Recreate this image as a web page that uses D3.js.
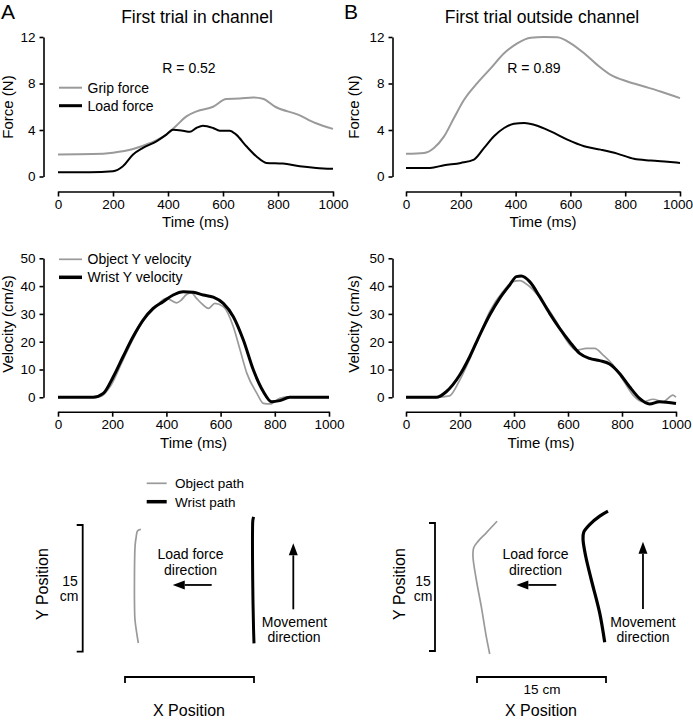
<!DOCTYPE html>
<html>
<head>
<meta charset="utf-8">
<script src="https://cdn.jsdelivr.net/npm/d3@7/dist/d3.min.js"></script>
<style>
  html, body { margin: 0; padding: 0; background: #fff; }
  svg { display: block; }
  text { font-family: "Liberation Sans", Arial, Helvetica, sans-serif; fill: #000; }
</style>
</head>
<body>
<svg id="chart" width="693" height="720"></svg>
<script>
// ---------------- DATA ----------------
const timeTicks = [0, 200, 400, 600, 800, 1000];
const forceTicks = [0, 4, 8, 12];
const velTicks = [0, 10, 20, 30, 40, 50];

// Panel A - force (N)
const gripA_t = [0,127,200,273,333,394,430,467,504,564,612,661,709,745,790,875,936,1000];
const gripA_v = [1.9,1.93,2.05,2.36,2.86,3.6,4.37,5.17,5.6,6.0,6.66,6.7,6.8,6.69,6.0,5.3,4.6,4.1];
const loadA_t = [0,115,200,236,273,309,358,394,418,455,479,503,527,564,588,624,648,685,721,758,818,879,939,1000];
const loadA_v = [0.37,0.37,0.45,0.88,1.89,2.46,3.03,3.6,4.03,3.94,3.85,4.17,4.37,4.17,3.94,3.94,3.6,2.6,1.74,1.17,1.11,0.88,0.74,0.66];

// Panel B - force (N)
const gripB_t = [0,66,102,139,175,212,260,309,358,406,455,504,552,601,650,698,747,808,869,929,1000];
const gripB_v = [1.95,2.03,2.46,3.45,5.03,6.6,8.03,9.3,10.6,11.46,11.94,12.0,11.97,11.46,10.6,9.6,8.74,8.17,7.74,7.31,6.74];
const loadB_t = [0,88,139,200,248,285,321,358,394,431,479,528,589,650,710,771,832,893,954,1000];
const loadB_v = [0.74,0.74,0.97,1.17,1.46,2.46,3.46,4.17,4.54,4.6,4.37,3.88,3.17,2.6,2.31,1.97,1.52,1.37,1.26,1.17];

// Panel A - velocity (cm/s)
const wristVelA_t = [0,130,167,204,240,277,314,351,388,425,462,499,536,573,610,647,684,721,758,788,818,855,1000];
const wristVelA_v = [0,0,1.4,7.4,14.6,21.8,27.8,32,34.4,36.8,38,37.8,36.8,36,33.8,29,20.6,9.8,2.0,-1.6,-1.2,0,0];
const objVelA_t = [0,155,192,240,277,314,351,400,437,455,474,492,511,536,555,579,610,647,672,697,734,758,783,818,843,868,1000];
const objVelA_v = [0,0.2,3.8,13.5,21,27.5,31.5,35.6,34,35,37,37.6,35.6,33.2,32,33.8,32.6,25.4,17,8.6,1.4,-2.2,-2.4,-0.4,0.2,0,0];

// Panel B - velocity (cm/s)
const wristVelB_t = [0,112,149,199,236,273,310,347,384,409,427,458,495,532,569,606,643,680,717,754,791,828,865,902,939,1000];
const wristVelB_v = [0,0,2,8,14.6,22.4,29.6,35.6,40.4,43.4,43.6,41.6,36.2,30.2,24.8,20,15.8,14,13.2,12,8.6,3.8,-0.4,-2.4,-1.6,-2.2];
const objVelB_t = [0,112,161,199,261,310,359,396,421,458,507,557,594,631,668,699,730,767,804,841,878,915,952,989,1000];
const objVelB_v = [0,0,0.5,6.2,19.4,30.8,38,41.6,42,39.8,34.4,27.2,20.6,17,17.6,17.6,15.2,11.6,6.2,0.8,-1.6,-0.7,-1.6,0.8,0];

// Paths (cm)
const objPathA_x = [1.55,1.36,1.16,1.1,1.1,1.12,1.18,1.3,1.45,1.85];
const objPathA_y = [1.03,2.24,3.78,6.14,8.5,10.86,12.63,13.58,14.3,14.5];
const wristPathA_x = [15.0,14.95,14.88,14.83,14.83,14.86,14.95];
const wristPathA_y = [0.99,2.6,6.14,10.86,14.4,15.5,15.95];
const objPathB_x = [1.48,1.08,0.5,-0.08,-0.47,-0.38,0.12,1.08,2.33];
const objPathB_y = [-0.35,1.68,5.2,8.35,11.1,12.1,12.85,13.85,15.2];
const wristPathB_x = [14.85,14.27,13.29,12.64,12.33,12.41,13.1,14.27,15.23];
const wristPathB_y = [1.02,4.44,8.35,11.1,13.06,13.92,14.82,15.8,16.39];

const scaleBar = [0, 15]; // cm

// ---------------- DRAW ----------------
const svg = d3.select("#chart");
const GRAY = "#9a9a9a";
const zip = (a, b) => a.map((d, i) => [d, b[i]]);

function drawAxes(g, x, y, yTicks, xAxisY, yAxisX, lastShift) {
  const ya = g.append("g").attr("transform", `translate(${yAxisX},0)`)
    .call(d3.axisLeft(y).tickValues(yTicks).tickFormat(d3.format("d")).tickSize(4).tickSizeOuter(0).tickPadding(4));
  ya.selectAll("text").style("font-size", "13.5px").style("font-family", "Liberation Sans, Arial, sans-serif");
  const xa = g.append("g").attr("transform", `translate(0,${xAxisY})`)
    .call(d3.axisBottom(x).tickValues(timeTicks).tickFormat(d3.format("d")).tickSize(5).tickSizeOuter(0).tickPadding(3));
  xa.selectAll("text").style("font-size", "13.5px").style("font-family", "Liberation Sans, Arial, sans-serif");
  if (lastShift) xa.selectAll(".tick text").filter(d => d === 1000).attr("dx", lastShift);
  [ya, xa].forEach(a => {
    a.select(".domain").attr("stroke", "#000").attr("stroke-width", 1.6);
    a.selectAll(".tick line").attr("stroke", "#000").attr("stroke-width", 1.6);
  });
}

function drawLine(g, x, y, t, v, color, width, curve) {
  g.append("path")
    .datum(zip(t, v))
    .attr("fill", "none")
    .attr("stroke", color)
    .attr("stroke-width", width)
    .attr("stroke-linejoin", "round")
    .attr("d", d3.line().x(d => x(d[0])).y(d => y(d[1])).curve(curve || d3.curveMonotoneX));
}

function text(g, x, y, s, size, anchor, rot) {
  const t = g.append("text").attr("font-size", size).attr("text-anchor", anchor || "start").text(s);
  if (rot) t.attr("transform", `translate(${x},${y}) rotate(${rot})`);
  else t.attr("x", x).attr("y", y);
  return t;
}

const g = svg.append("g");

// Panel letters & titles
text(g, 1, 18.5, "A", "21px");
text(g, 344, 18.5, "B", "21px");
text(g, 197, 23, "First trial in channel", "17.5px", "middle");
text(g, 542, 23, "First trial outside channel", "17.5px", "middle");

// ---- Force panels ----
const yForce = d3.scaleLinear().domain([0, 12]).range([176.5, 37]);
const xForceA = d3.scaleLinear().domain([0, 1000]).range([58, 333]);
const xForceB = d3.scaleLinear().domain([0, 1000]).range([406, 680]);

drawAxes(g, xForceA, yForce, forceTicks, 191.5, 43.5);
drawAxes(g, xForceB, yForce, forceTicks, 191.5, 392.5, -2.5);
drawLine(g, xForceA, yForce, gripA_t, gripA_v, GRAY, 2);
drawLine(g, xForceA, yForce, loadA_t, loadA_v, "#000", 2);
drawLine(g, xForceB, yForce, gripB_t, gripB_v, GRAY, 2);
drawLine(g, xForceB, yForce, loadB_t, loadB_v, "#000", 2);

text(g, 195.5, 227, "Time (ms)", "15px", "middle");
text(g, 543, 227, "Time (ms)", "15px", "middle");
text(g, 13, 107, "Force (N)", "15px", "middle", -90);
text(g, 359, 107, "Force (N)", "15px", "middle", -90);
text(g, 189, 72.5, "R = 0.52", "14px", "middle");
text(g, 534, 72.5, "R = 0.89", "14px", "middle");

// Force legend
g.append("line").attr("x1", 59).attr("x2", 82).attr("y1", 87.7).attr("y2", 87.7).attr("stroke", GRAY).attr("stroke-width", 2);
g.append("line").attr("x1", 59).attr("x2", 82).attr("y1", 105.7).attr("y2", 105.7).attr("stroke", "#000").attr("stroke-width", 3);
text(g, 87.5, 92.5, "Grip force", "14px");
text(g, 87.5, 110.5, "Load force", "14px");

// ---- Velocity panels ----
const yVel = d3.scaleLinear().domain([0, 50]).range([397.3, 258.3]);
const xVelA = d3.scaleLinear().domain([0, 1000]).range([58, 329]);
const xVelB = d3.scaleLinear().domain([0, 1000]).range([406, 676]);

drawAxes(g, xVelA, yVel, velTicks, 411.7, 43.5);
drawAxes(g, xVelB, yVel, velTicks, 411.7, 392.5);
drawLine(g, xVelA, yVel, objVelA_t, objVelA_v, GRAY, 1.7);
drawLine(g, xVelA, yVel, wristVelA_t, wristVelA_v, "#000", 3);
drawLine(g, xVelB, yVel, objVelB_t, objVelB_v, GRAY, 1.7);
drawLine(g, xVelB, yVel, wristVelB_t, wristVelB_v, "#000", 3);

text(g, 193.5, 448, "Time (ms)", "15px", "middle");
text(g, 541, 448, "Time (ms)", "15px", "middle");
text(g, 12.5, 324, "Velocity (cm/s)", "15px", "middle", -90);
text(g, 358.5, 324, "Velocity (cm/s)", "15px", "middle", -90);

g.append("line").attr("x1", 59).attr("x2", 82).attr("y1", 259.3).attr("y2", 259.3).attr("stroke", GRAY).attr("stroke-width", 1.7);
g.append("line").attr("x1", 59).attr("x2", 82).attr("y1", 277.3).attr("y2", 277.3).attr("stroke", "#000").attr("stroke-width", 3.5);
text(g, 87.5, 264, "Object Y velocity", "14px");
text(g, 87.5, 282, "Wrist Y velocity", "14px");

// ---- Position panels ----
const posXA = d3.scaleLinear().domain([0, 15]).range([125, 254]);
const posYA = d3.scaleLinear().domain([0, 15]).range([651.7, 525]);
const posXB = d3.scaleLinear().domain([0, 15]).range([477, 606]);
const posYB = d3.scaleLinear().domain([0, 15]).range([651, 523]);

const cr = d3.curveCatmullRom.alpha(0.5);
drawLine(g, posXA, posYA, objPathA_x, objPathA_y, GRAY, 1.7, cr);
drawLine(g, posXA, posYA, wristPathA_x, wristPathA_y, "#000", 3, cr);
drawLine(g, posXB, posYB, objPathB_x, objPathB_y, GRAY, 1.7, cr);
drawLine(g, posXB, posYB, wristPathB_x, wristPathB_y, "#000", 3.2, cr);

// Legend for paths
g.append("line").attr("x1", 146.7).attr("x2", 166.7).attr("y1", 483.3).attr("y2", 483.3).attr("stroke", GRAY).attr("stroke-width", 1.7);
g.append("line").attr("x1", 146.7).attr("x2", 166.7).attr("y1", 501.7).attr("y2", 501.7).attr("stroke", "#000").attr("stroke-width", 3.5);
text(g, 175, 488, "Object path", "13.5px");
text(g, 175, 506.5, "Wrist path", "13.5px");

function bracketY(x, y0, y1) {
  g.append("path").attr("fill", "none").attr("stroke", "#000").attr("stroke-width", 1.8)
    .attr("d", `M${x - 6},${y0}H${x}V${y1}H${x - 6}`);
}
function bracketX(x0, x1, y) {
  g.append("path").attr("fill", "none").attr("stroke", "#000").attr("stroke-width", 1.8)
    .attr("d", `M${x0},${y + 6}V${y}H${x1}V${y + 6}`);
}
function arrow(x1, y1, x2, y2) {
  const ang = Math.atan2(y2 - y1, x2 - x1);
  const L = 12, W = 4.5;
  const bx = x2 - L * Math.cos(ang), by = y2 - L * Math.sin(ang);
  g.append("line").attr("x1", x1).attr("y1", y1).attr("x2", bx).attr("y2", by)
    .attr("stroke", "#000").attr("stroke-width", 1.8);
  g.append("path").attr("fill", "#000")
    .attr("d", `M${x2},${y2}L${bx - W * Math.sin(ang)},${by + W * Math.cos(ang)}L${bx + W * Math.sin(ang)},${by - W * Math.cos(ang)}Z`);
}

// Panel A bottom
bracketY(82.7, posYA(scaleBar[1]), posYA(scaleBar[0]));
bracketX(posXA(scaleBar[0]), posXA(scaleBar[1]), 677);
text(g, 70, 585.5, "15", "14px", "middle");
text(g, 69, 600.5, "cm", "14px", "middle");
text(g, 48, 584, "Y Position", "16px", "middle", -90);
text(g, 190.5, 558.5, "Load force", "14px", "middle");
text(g, 190.5, 575, "direction", "14px", "middle");
arrow(posXA(10.08), posYA(7.9), posXA(5.55), posYA(7.9));
arrow(posXA(19.57), posYA(5.02), posXA(19.57), posYA(12.83));
text(g, 294.5, 626.5, "Movement", "14px", "middle");
text(g, 294, 642, "direction", "14px", "middle");
text(g, 189, 715.5, "X Position", "16px", "middle");

// Panel B bottom
bracketY(435, posYB(scaleBar[1]), posYB(scaleBar[0]));
bracketX(posXB(scaleBar[0]), posXB(scaleBar[1]), 677);
text(g, 423, 585.5, "15", "14px", "middle");
text(g, 423, 600.5, "cm", "14px", "middle");
text(g, 404.5, 584, "Y Position", "16px", "middle", -90);
text(g, 535.5, 558.5, "Load force", "14px", "middle");
text(g, 535.5, 575, "direction", "14px", "middle");
arrow(posXB(9.22), posYB(7.74), posXB(4.57), posYB(7.74));
arrow(posXB(19.3), posYB(4.92), posXB(19.3), posYB(12.81));
text(g, 643, 626.5, "Movement", "14px", "middle");
text(g, 643, 642, "direction", "14px", "middle");
text(g, 542, 693.5, "15 cm", "13.5px", "middle");
text(g, 541, 715.5, "X Position", "16px", "middle");
</script>
</body>
</html>
